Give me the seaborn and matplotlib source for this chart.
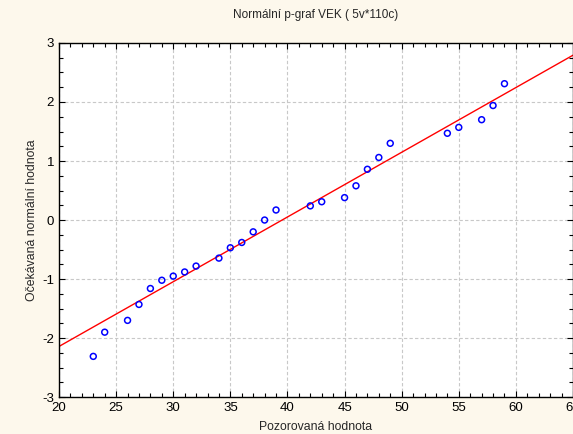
import matplotlib
matplotlib.use('Agg')
import matplotlib.pyplot as plt
import numpy as np
import pandas as pd
import seaborn as sns
from matplotlib.ticker import MultipleLocator

vek = [23, 24, 26, 27, 28, 29, 30, 31, 32, 34, 35, 36, 37, 38, 39,
       42, 43, 45, 46, 47, 48, 49, 54, 55, 57, 58, 59]
expected = [-2.31, -1.90, -1.70, -1.43, -1.16, -1.02, -0.95, -0.88, -0.78,
            -0.645, -0.47, -0.38, -0.20, 0.0, 0.17,
            0.24, 0.31, 0.38, 0.58, 0.86, 1.06, 1.30, 1.47, 1.57, 1.70, 1.94, 2.31]
# reference line: z = (x - mean) / sd
line_mean = 39.53
line_sd = 9.12

df = pd.DataFrame({'vek': vek, 'z': expected})
line_x = np.array([20, 65])
line_df = pd.DataFrame({'vek': line_x, 'z': (line_x - line_mean) / line_sd})

bg = '#fdf8ec'
sns.set_style('ticks')
plt.rcParams['font.family'] = ['Liberation Sans', 'DejaVu Sans']
plt.rcParams['font.size'] = 8.5
plt.rcParams['axes.unicode_minus'] = False

fig = plt.figure(figsize=(5.73, 4.34), dpi=100, facecolor=bg)
ax = fig.add_axes([0.103, 0.085, 0.897, 0.816])
ax.set_facecolor('white')

sns.lineplot(data=line_df, x='vek', y='z', color='red', linewidth=1.0, ax=ax, zorder=2)
sns.scatterplot(data=df, x='vek', y='z', marker='o', s=18, facecolors='none',
                edgecolor='blue', linewidth=1.1, ax=ax, zorder=3)

ax.set_xlim(20, 65)
ax.set_ylim(-3, 3)
ax.xaxis.set_major_locator(MultipleLocator(5))
ax.xaxis.set_minor_locator(MultipleLocator(1))
ax.yaxis.set_major_locator(MultipleLocator(1))
ax.yaxis.set_minor_locator(MultipleLocator(0.25))
ax.tick_params(which='both', direction='in', top=True, right=True, colors='black',
               labelsize=9.5)
ax.tick_params(which='major', length=4, width=0.8)
ax.tick_params(which='minor', length=3, width=0.8)
ax.grid(True, which='major', color='#c8c8c8', linestyle=(0, (3, 2)), linewidth=0.8)
for s in ax.spines.values():
    s.set_color('black')
    s.set_linewidth(1.0)

ax.set_title('Normální p-graf VEK ( 5v*110c)', fontsize=8.5, pad=18)
ax.set_xlabel('Pozorovaná hodnota', fontsize=8.8, labelpad=5)
ax.set_ylabel('Očekávaná normální hodnota', fontsize=8.8, labelpad=3)

fig.savefig('out.png', dpi=100, facecolor=bg)
